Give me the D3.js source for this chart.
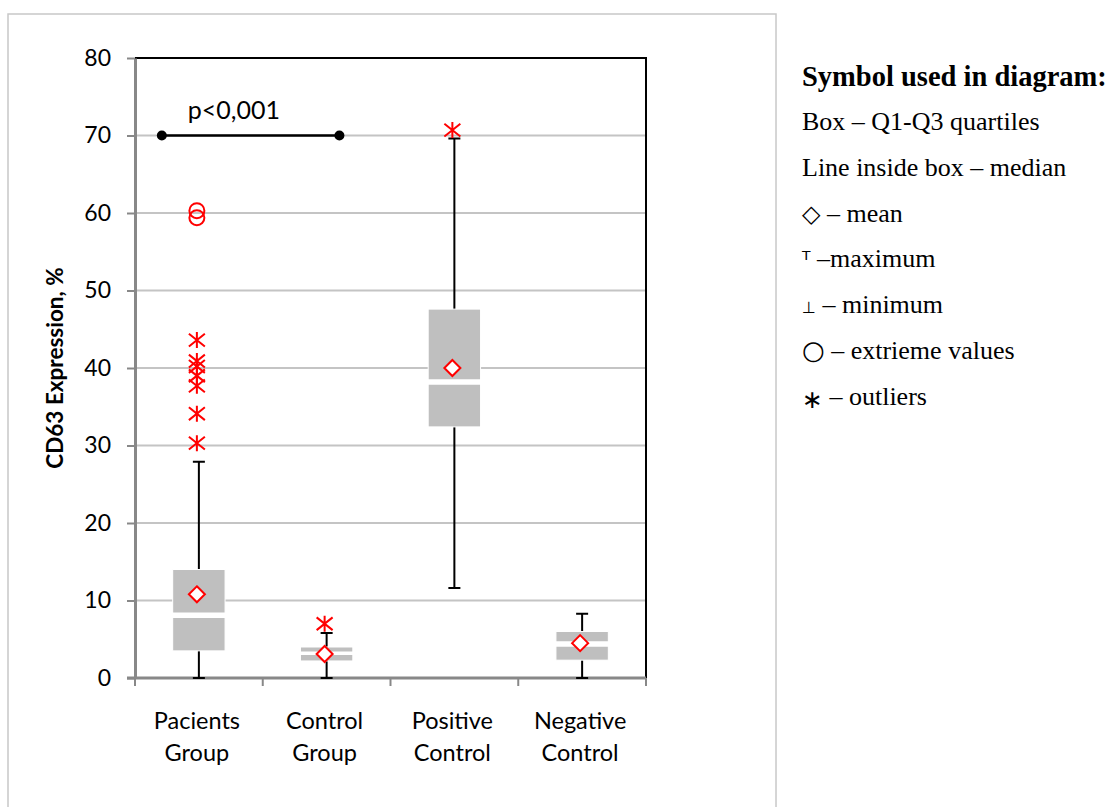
<!DOCTYPE html>
<html>
<head>
<meta charset="utf-8">
<script src="https://cdn.jsdelivr.net/npm/d3@7"></script>
<style>
  body { margin: 0; background: #fff; }
  svg { display: block; }
</style>
</head>
<body>
<div id="chart"></div>
<script>
// categories (two-line labels)
const categories = ["Pacients Group", "Control Group", "Positive Control", "Negative Control"]
const catLines = [["Pacients", "Group"], ["Control", "Group"], ["Positive", "Control"], ["Negative", "Control"]]

// box stats
const q1 = [3.5, 2.2, 32.4, 2.3]
const median = [8.1, 3.2, 38.2, 4.4]
const q3 = [14.0, 4.0, 47.6, 6.0]
const minV = [0, 0, 11.6, 0]
const maxV = [27.9, 5.8, 69.6, 8.3]
const meanV = [10.8, 3.1, 40.0, 4.5]

// outliers (asterisks) and extreme values (circles)
const outliers = [
  [30.3, 34.1, 37.7, 39.0, 40.2, 40.9, 43.6],
  [7.0],
  [70.7],
  []
]
const extremes = [[59.4, 60.3], [], [], []]

const yTicks = [0, 10, 20, 30, 40, 50, 60, 70, 80]

// significance bracket (category position index)
const pFrom = -0.29, pTo = 1.1, pY = 70, pLabel = "p<0,001"

const legendTitle = "Symbol used in diagram:"
// [symbol, symbol size, symbol dy, rest]
const legendItems = [
  ["", 0, 0, "Box \u2013 Q1-Q3 quartiles"],
  ["", 0, 0, "Line inside box \u2013 median"],
  ["\u25C7", 24, 0, " \u2013 mean"],
  ["\u1D40", 22, 0, " \u2013maximum"],
  ["\u22A5", 16, 0, " \u2013 minimum"],
  ["\u25CB", 26, 0, " \u2013 extrieme values"],
  ["\u2217", 25, 3, " \u2013 outliers"]
]

const width = 1117, height = 807
const plot = { left: 135, right: 646, top: 58, bottom: 678 }
const sans = "Lato, 'Open Sans', sans-serif"
const serif = "'Liberation Serif', 'DejaVu Serif', serif"
const symFont = "'DejaVu Sans', sans-serif"

const svg = d3.select("#chart").append("svg")
  .attr("width", width)
  .attr("height", height)

// outer frame
svg.append("rect")
  .attr("x", 8).attr("y", 14)
  .attr("width", 768).attr("height", 820)
  .attr("fill", "none")
  .attr("stroke", "#c8c8c8")
  .attr("stroke-width", 1.5)

const x = d3.scaleBand()
  .domain(categories)
  .range([plot.left, plot.right])
  .padding(0)
const pos = d3.scaleLinear()
  .domain([-0.5, categories.length - 0.5])
  .range([plot.left, plot.right])
const y = d3.scaleLinear()
  .domain([0, 80])
  .range([plot.bottom, plot.top])

// gridlines
svg.append("g")
  .selectAll("line")
  .data(yTicks.filter(d => d > 0 && d < 80))
  .join("line")
  .attr("x1", plot.left).attr("x2", plot.right)
  .attr("y1", d => y(d)).attr("y2", d => y(d))
  .attr("stroke", "#c4c4c4")
  .attr("stroke-width", 2)

// plot border top/right
svg.append("path")
  .attr("d", `M${plot.left},${y(80)}H${plot.right}V${plot.bottom}`)
  .attr("fill", "none")
  .attr("stroke", "#000")
  .attr("stroke-width", 2)

// y axis
const yAxis = svg.append("g")
  .attr("transform", `translate(${plot.left},0)`)
  .call(d3.axisLeft(y).tickValues(yTicks).tickSize(8).tickPadding(16).tickSizeOuter(0))
yAxis.select(".domain").attr("stroke", "#888").attr("stroke-width", 3)
yAxis.selectAll(".tick line").attr("stroke", "#888").attr("stroke-width", 2)
yAxis.selectAll(".tick text")
  .attr("font-family", sans).attr("font-size", 23).attr("fill", "#000")

// x axis: ticks at band boundaries
const bounds = categories.map(c => x(c)).concat([plot.right])
const xAxisG = svg.append("g")
xAxisG.append("line")
  .attr("x1", plot.left - 8).attr("x2", plot.right)
  .attr("y1", plot.bottom).attr("y2", plot.bottom)
  .attr("stroke", "#888").attr("stroke-width", 3)
xAxisG.selectAll(".xt")
  .data(bounds)
  .join("line")
  .attr("class", "xt")
  .attr("x1", d => d).attr("x2", d => d)
  .attr("y1", plot.bottom).attr("y2", plot.bottom + 8)
  .attr("stroke", "#888").attr("stroke-width", 2)
xAxisG.selectAll(".xl")
  .data(categories)
  .join("text")
  .attr("class", "xl")
  .attr("text-anchor", "middle")
  .attr("font-family", sans).attr("font-size", 23.5)
  .each(function (d, i) {
    const t = d3.select(this)
    catLines[i].forEach((s, k) => {
      t.append("tspan")
        .attr("x", x(d) + x.bandwidth() / 2 - 2)
        .attr("y", 729 + k * 32)
        .text(s)
    })
  })

// y axis title
svg.append("text")
  .attr("transform", "translate(63,368) rotate(-90)")
  .attr("text-anchor", "middle")
  .attr("font-family", sans).attr("font-size", 22.5).attr("font-weight", "bold")
  .text("CD63 Expression, %")

// boxes
const boxW = x.bandwidth() * 0.41
const capW = 12
const cx = i => x(categories[i]) + x.bandwidth() / 2
const I = d3.range(categories.length)
const boxes = svg.append("g")

// whiskers
boxes.selectAll(".whisk")
  .data(I)
  .join("path")
  .attr("class", "whisk")
  .attr("d", i =>
    `M${cx(i)},${y(maxV[i])}V${y(minV[i])}` +
    `M${cx(i) - capW / 2},${y(maxV[i])}h${capW}` +
    `M${cx(i) - capW / 2},${y(minV[i])}h${capW}`)
  .attr("fill", "none")
  .attr("stroke", "#000")
  .attr("stroke-width", 2)

boxes.selectAll(".box")
  .data(I)
  .join("rect")
  .attr("class", "box")
  .attr("x", i => cx(i) - boxW / 2)
  .attr("y", i => y(q3[i]))
  .attr("width", boxW)
  .attr("height", i => y(q1[i]) - y(q3[i]))
  .attr("fill", "#bfbfbf")
  .attr("stroke", "#fff")
  .attr("stroke-width", 1)

// median gap
boxes.selectAll(".med")
  .data(I)
  .join("line")
  .attr("class", "med")
  .attr("x1", i => cx(i) - boxW / 2 - 1)
  .attr("x2", i => cx(i) + boxW / 2 + 1)
  .attr("y1", i => y(median[i])).attr("y2", i => y(median[i]))
  .attr("stroke", "#fff")
  .attr("stroke-width", i => (y(q1[i]) - y(q3[i]) < 20 ? 3.5 : 5.5))

// mean diamonds
const diamond = (px, py, r) => `M${px},${py - r}L${px + r},${py}L${px},${py + r}L${px - r},${py}Z`
boxes.selectAll(".mean")
  .data(I)
  .join("path")
  .attr("class", "mean")
  .attr("d", i => diamond(cx(i) - 2, y(meanV[i]), 8))
  .attr("fill", "#fff")
  .attr("stroke", "#ff0000")
  .attr("stroke-width", 2)

// outliers: asterisk (vertical + X)
const star = (px, py, r) =>
  `M${px},${py - r}V${py + r}` +
  `M${px - r},${py - r * 0.8}L${px + r},${py + r * 0.8}` +
  `M${px - r},${py + r * 0.8}L${px + r},${py - r * 0.8}`
const outPts = I.flatMap(i => outliers[i].map(v => ({ i, v })))
boxes.selectAll(".out")
  .data(outPts)
  .join("path")
  .attr("class", "out")
  .attr("d", d => star(cx(d.i) - 2, y(d.v), 8))
  .attr("fill", "none")
  .attr("stroke", "#ff0000")
  .attr("stroke-width", 2)

const extPts = I.flatMap(i => extremes[i].map(v => ({ i, v })))
boxes.selectAll(".ext")
  .data(extPts)
  .join("circle")
  .attr("class", "ext")
  .attr("cx", d => cx(d.i) - 2)
  .attr("cy", d => y(d.v))
  .attr("r", 7.5)
  .attr("fill", "none")
  .attr("stroke", "#ff0000")
  .attr("stroke-width", 2)

// significance bracket
const brk = svg.append("g")
brk.append("line")
  .attr("x1", pos(pFrom)).attr("x2", pos(pTo))
  .attr("y1", y(pY)).attr("y2", y(pY))
  .attr("stroke", "#000").attr("stroke-width", 2.5)
brk.selectAll("circle")
  .data([pFrom, pTo])
  .join("circle")
  .attr("cx", d => pos(d)).attr("cy", y(pY))
  .attr("r", 5).attr("fill", "#000")
brk.append("text")
  .attr("x", pos(pFrom) + 26).attr("y", y(pY) - 17)
  .attr("font-family", sans).attr("font-size", 25)
  .text(pLabel)

// legend
const leg = svg.append("g").attr("transform", "translate(802,0)")
leg.append("text")
  .attr("y", 86)
  .attr("font-family", serif).attr("font-size", 28.5).attr("font-weight", "bold")
  .text(legendTitle)
leg.selectAll(".li")
  .data(legendItems)
  .join("text")
  .attr("class", "li")
  .attr("y", (d, i) => 130 + i * 45.8)
  .attr("font-family", serif).attr("font-size", 26)
  .each(function (d) {
    const t = d3.select(this)
    if (d[0]) {
      t.append("tspan")
        .attr("font-family", symFont)
        .attr("font-size", d[1])
        .attr("dy", d[2])
        .text(d[0])
      t.append("tspan").attr("dy", -d[2]).text(d[3])
    } else {
      t.text(d[3])
    }
  })
</script>
</body>
</html>
